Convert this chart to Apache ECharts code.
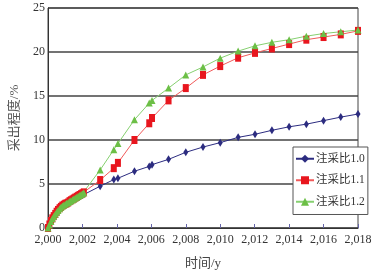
<!DOCTYPE html>
<html>
<head>
<meta charset="utf-8">
<script src="https://cdn.jsdelivr.net/npm/echarts@6/dist/echarts.min.js"></script>
<style>
  html, body { margin: 0; padding: 0; background: #fff; }
  #chart { width: 375px; height: 276px; }
</style>
</head>
<body>
<div id="chart"></div>
<script>
// 时间 (年)，前两年为月度数据
const years = [
  2000, 2000.08, 2000.17, 2000.25, 2000.33, 2000.42, 2000.5, 2000.58, 2000.67, 2000.75,
  2000.83, 2000.92, 2001, 2001.08, 2001.17, 2001.25, 2001.33, 2001.42, 2001.5, 2001.58,
  2001.67, 2001.75, 2001.83, 2001.92, 2002, 2002.08,
  2003.03, 2003.82, 2004.06, 2005.02, 2005.88, 2006.04, 2007, 2008, 2009, 2010,
  2011.04, 2012.02, 2013, 2014, 2015, 2016, 2017, 2018
];

// 采出程度/%
const ratio10 = [
  0, 0.35, 0.7, 1.0, 1.25, 1.5, 1.7, 1.9, 2.1, 2.25,
  2.4, 2.55, 2.65, 2.75, 2.85, 2.95, 3.05, 3.15, 3.25, 3.35,
  3.45, 3.5, 3.6, 3.7, 3.75, 3.8,
  4.75, 5.5, 5.65, 6.45, 7.0, 7.2, 7.8, 8.6, 9.2, 9.7,
  10.3, 10.65, 11.1, 11.5, 11.8, 12.2, 12.6, 12.95
];
const ratio11 = [
  0, 0.4, 0.8, 1.1, 1.35, 1.6, 1.85, 2.05, 2.25, 2.4,
  2.55, 2.65, 2.75, 2.8, 2.9, 3.05, 3.15, 3.25, 3.35, 3.45,
  3.55, 3.65, 3.75, 3.85, 3.95, 4.05,
  5.45, 6.8, 7.4, 10.0, 11.9, 12.5, 14.5, 15.9, 17.4, 18.4,
  19.35, 19.9, 20.4, 20.9, 21.4, 21.7, 22.0, 22.4
];
const ratio12 = [
  0, 0.35, 0.75, 1.05, 1.3, 1.55, 1.8, 2.0, 2.2, 2.35,
  2.5, 2.6, 2.7, 2.8, 2.9, 3.0, 3.1, 3.2, 3.3, 3.4,
  3.5, 3.6, 3.7, 3.8, 3.9, 4.0,
  6.6, 8.9, 9.6, 12.3, 14.2, 14.5, 15.9, 17.4, 18.3, 19.3,
  20.1, 20.7, 21.1, 21.4, 21.8, 22.1, 22.3, 22.5
];

const legendNames = ["注采比1.0", "注采比1.1", "注采比1.2"];
const xTicks = { min: 2000, max: 2018, step: 2 };
const yTicks = { min: 0, max: 25, step: 5 };

const pair = (vals) => years.map((t, i) => [t, vals[i]]);

const serif = "'Liberation Serif', 'Noto Sans CJK SC', serif";

const myChart = echarts.init(document.getElementById("chart"));

myChart.setOption({
  animation: false,
  grid: {
    left: 39,
    right: 17,
    top: 8,
    bottom: 48,
    show: true,
    borderColor: "#444",
    borderWidth: 1,
  },
  legend: {
    orient: "vertical",
    left: 293,
    top: 147,
    width: 66,
    padding: [6, 3, 7, 2],
    itemGap: 10,
    itemWidth: 18,
    itemHeight: 10,
    backgroundColor: "#fff",
    borderColor: "#555",
    borderWidth: 1,
    data: legendNames,
    textStyle: {
      fontFamily: serif,
      fontSize: 11.5,
      color: "#333",
      padding: [0, 0, 0, -3],
    },
  },
  xAxis: {
    type: "value",
    min: xTicks.min,
    max: xTicks.max,
    interval: xTicks.step,
    name: "时间/y",
    nameLocation: "middle",
    nameGap: 29,
    nameTextStyle: {
      fontFamily: serif,
      fontSize: 13,
      color: "#444",
    },
    axisLine: { lineStyle: { color: "#333", width: 1 } },
    axisTick: { show: true, inside: true, length: 4, lineStyle: { color: "#6666aa" } },
    splitLine: { show: false },
    axisLabel: {
      margin: 6,
      fontFamily: serif,
      fontSize: 12,
      color: "#333",
    },
  },
  yAxis: {
    type: "value",
    min: yTicks.min,
    max: yTicks.max,
    interval: yTicks.step,
    name: "采出程度/%",
    nameLocation: "middle",
    nameGap: 27,
    nameTextStyle: {
      fontFamily: serif,
      fontSize: 13,
      color: "#555",
    },
    axisLine: { show: true, lineStyle: { color: "#333", width: 1 } },
    axisTick: { show: false },
    splitLine: { show: true, lineStyle: { color: "#444", width: 1.5 } },
    axisLabel: {
      margin: 3,
      fontFamily: serif,
      fontSize: 12,
      color: "#333",
    },
  },
  series: [
    {
      name: legendNames[0],
      type: "line",
      data: pair(ratio10),
      symbol: "diamond",
      symbolSize: [5, 8],
      lineStyle: { color: "#2c2c80", width: 1 },
      itemStyle: { color: "#2c2c80" },
    },
    {
      name: legendNames[1],
      type: "line",
      data: pair(ratio11),
      symbol: "rect",
      symbolSize: [6, 8],
      lineStyle: { color: "#f05a5a", width: 1 },
      itemStyle: { color: "#e8161e" },
    },
    {
      name: legendNames[2],
      type: "line",
      data: pair(ratio12),
      symbol: "triangle",
      symbolSize: 7,
      lineStyle: { color: "#86d070", width: 1 },
      itemStyle: { color: "#6cbf46" },
    },
  ],
});

window.addEventListener("resize", () => {
  myChart && myChart.resize();
});
</script>
</body>
</html>
